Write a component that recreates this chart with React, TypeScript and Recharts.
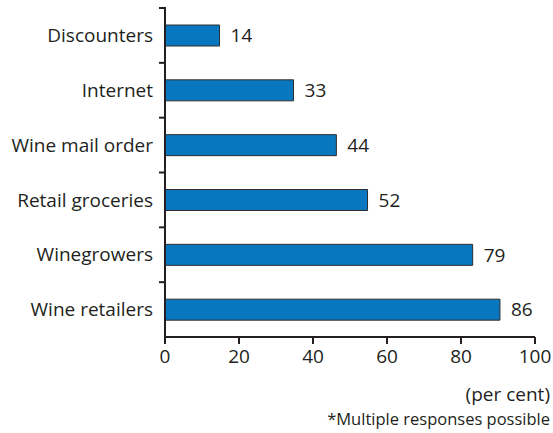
import React from "react";
import { ComposedChart, Bar, Line, XAxis, YAxis, LabelList } from "recharts";

const categories = ["Discounters", "Internet", "Wine mail order", "Retail groceries", "Winegrowers", "Wine retailers"];
const values = [14, 33, 44, 52, 79, 86];
const xTicks = [0, 20, 40, 60, 80, 100];

const data = categories.map((name, i) => ({ name, value: values[i] }));

const FONT = "'Open Sans', sans-serif";
const INK = "#231f20";

const CategoryTick = (props: any) => {
  const { x, y, payload, height } = props;
  const band = (height as number) / categories.length;
  const lineX = x + 6;
  return (
    <g>
      <line x1={lineX} x2={lineX + 7} y1={y - band / 2} y2={y - band / 2} stroke={INK} strokeWidth={2} />
      <text x={x} y={y} dy="0.35em" textAnchor="end" fontFamily={FONT} fontSize={19} fill={INK}>
        {payload.value}
      </text>
    </g>
  );
};

export default function App() {
  return (
    <div style={{ position: "absolute", left: 0, top: 0, width: 553, height: 433, background: "#fff" }}>
      <ComposedChart
        width={553}
        height={433}
        data={data}
        layout="vertical"
        margin={{ top: 8, right: 18, bottom: 66, left: 0 }}
        barSize={21}
      >
        <XAxis
          xAxisId="main"
          type="number"
          domain={[0, 100]}
          ticks={xTicks}
          height={30}
          axisLine={{ stroke: INK, strokeWidth: 2 }}
          tickLine={{ stroke: INK, strokeWidth: 2 }}
          tickSize={7}
          tickMargin={6}
          tick={{ fill: INK, fontSize: 19, fontFamily: FONT }}
          interval={0}
        />
        <XAxis xAxisId="bars" type="number" domain={[0, 95]} hide height={0} allowDataOverflow />
        <YAxis
          type="category"
          dataKey="name"
          width={165}
          axisLine={{ stroke: INK, strokeWidth: 2 }}
          tickLine={false}
          tickSize={6}
          tickMargin={6}
          tick={<CategoryTick />}
          interval={0}
        />
        <Bar dataKey="value" xAxisId="bars" fill="#0877c0" stroke="#2e2e2e" strokeWidth={1} isAnimationActive={false}>
          <LabelList dataKey="value" position="right" offset={11} fill={INK} fontSize={19} fontFamily={FONT} />
        </Bar>
        <Line
          dataKey="value"
          xAxisId="main"
          stroke="none"
          dot={false}
          activeDot={false}
          legendType="none"
          isAnimationActive={false}
        />
      </ComposedChart>
      <div
        style={{
          position: "absolute",
          right: 3,
          top: 382,
          fontFamily: FONT,
          fontSize: 19,
          color: INK,
          lineHeight: "24px",
          whiteSpace: "nowrap",
        }}
      >
        (per cent)
      </div>
      <div
        style={{
          position: "absolute",
          right: 3,
          top: 408,
          fontFamily: FONT,
          fontSize: 16.5,
          color: INK,
          lineHeight: "22px",
          whiteSpace: "nowrap",
        }}
      >
        *Multiple responses possible
      </div>
    </div>
  );
}
